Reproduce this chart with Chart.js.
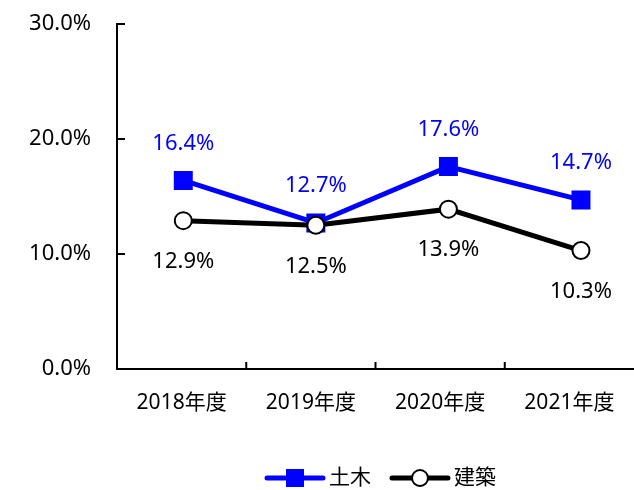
<!DOCTYPE html>
<html>
<head>
<meta charset="utf-8">
<script src="https://cdn.jsdelivr.net/npm/chart.js@4.4.1/dist/chart.umd.min.js"></script>
<style>
  html, body { margin: 0; padding: 0; background: #fff; overflow: hidden; }
  #wrap { width: 634px; height: 490px; position: relative; }
</style>
</head>
<body>
<div id="wrap"><canvas id="lineChart"></canvas></div>
<script>
// chart data
const categories = ['2018年度', '2019年度', '2020年度', '2021年度'];
const civilValues = [16.4, 12.7, 17.6, 14.7];     // 土木
const buildingValues = [12.9, 12.5, 13.9, 10.3];  // 建築
const yTickValues = [0, 10, 20, 30];
const seriesNames = ['土木', '建築'];

const FONT = "'Noto Sans', 'Noto Sans CJK JP', sans-serif";

// points sit on a hidden linear axis (category index -> x) so the markers
// land where the spreadsheet put them, slightly wider than the labels
const toPoints = arr => arr.map((v, i) => ({ x: i, y: v }));

// value labels above / below each point
const valueLabels = {
  id: 'valueLabels',
  afterDatasetsDraw(chart) {
    const ctx = chart.ctx;
    ctx.save();
    ctx.font = '22px ' + FONT;
    ctx.textAlign = 'center';
    ctx.textBaseline = 'middle';
    chart.data.datasets.forEach((ds, i) => {
      const meta = chart.getDatasetMeta(i);
      ctx.fillStyle = ds.labelColor;
      meta.data.forEach((pt, j) => {
        ctx.fillText(ds.data[j].y.toFixed(1) + '%', pt.x, pt.y + ds.labelOffset);
      });
    });
    ctx.restore();
  }
};

// small tick marks pointing into the plot area
const innerTicks = {
  id: 'innerTicks',
  afterDraw(chart) {
    const ctx = chart.ctx;
    const { x, y } = chart.scales;
    const area = chart.chartArea;
    ctx.save();
    ctx.strokeStyle = '#000';
    ctx.lineWidth = 2;
    ctx.beginPath();
    y.ticks.forEach(t => {
      const py = y.getPixelForValue(t.value);
      ctx.moveTo(area.left, py);
      ctx.lineTo(area.left + 8, py);
    });
    for (let i = 0; i < categories.length - 1; i++) {
      const px = (x.getPixelForValue(i) + x.getPixelForValue(i + 1)) / 2;
      ctx.moveTo(px, area.bottom);
      ctx.lineTo(px, area.bottom - 7);
    }
    ctx.stroke();
    ctx.restore();
  }
};

// legend drawn as line + marker, like the spreadsheet one
const lineLegend = {
  id: 'lineLegend',
  afterDraw(chart) {
    const ctx = chart.ctx;
    const items = [0, 1].map(i => chart.data.datasets[i]);
    ctx.save();
    ctx.font = '21px ' + FONT;
    ctx.textBaseline = 'middle';
    const sampleW = 56, gap = 6, itemGap = 21;
    let cx = 267;
    const cy = 478;
    items.forEach(ds => {
      ctx.strokeStyle = ds.borderColor;
      ctx.lineWidth = 5;
      ctx.lineCap = 'round';
      ctx.beginPath();
      ctx.moveTo(cx, cy);
      ctx.lineTo(cx + sampleW, cy);
      ctx.stroke();
      const mx = cx + sampleW / 2;
      ctx.lineWidth = 2;
      ctx.fillStyle = ds.pointBackgroundColor;
      ctx.strokeStyle = ds.pointBorderColor;
      ctx.beginPath();
      if (ds.pointStyle === 'rect') {
        ctx.rect(mx - 8, cy - 8, 16, 16);
      } else {
        ctx.arc(mx, cy, 8, 0, Math.PI * 2);
      }
      ctx.fill();
      ctx.stroke();
      ctx.fillStyle = '#000';
      ctx.fillText(ds.label, cx + sampleW + gap, cy);
      cx += sampleW + gap + ctx.measureText(ds.label).width + itemGap;
    });
    ctx.restore();
  }
};

new Chart(document.getElementById('lineChart'), {
  type: 'line',
  data: {
    labels: categories,
    datasets: [
      {
        label: seriesNames[0],
        data: toPoints(civilValues),
        xAxisID: 'xp',
        borderColor: '#0000FF',
        borderWidth: 5,
        pointStyle: 'rect',
        pointRadius: 12,
        pointBorderWidth: 2,
        pointBackgroundColor: '#0000FF',
        pointBorderColor: '#0000FF',
        labelColor: '#0000FF',
        labelOffset: -37,
        order: 1
      },
      {
        label: seriesNames[1],
        data: toPoints(buildingValues),
        xAxisID: 'xp',
        borderColor: '#000000',
        borderWidth: 5,
        pointStyle: 'circle',
        pointRadius: 8.5,
        pointBorderWidth: 2,
        pointBackgroundColor: '#FFFFFF',
        pointBorderColor: '#000000',
        labelColor: '#000000',
        labelOffset: 41,
        order: 0
      }
    ]
  },
  options: {
    responsive: true,
    maintainAspectRatio: false,
    animation: false,
    layout: { autoPadding: false, padding: { top: 24, left: 0, right: 0, bottom: 0 } },
    plugins: {
      legend: { display: false },
      tooltip: { enabled: false }
    },
    scales: {
      x: {
        offset: true,
        grid: { drawOnChartArea: false, drawTicks: false },
        border: { display: true, color: '#000', width: 2 },
        ticks: {
          color: '#000',
          font: { family: FONT, size: 21 },
          padding: 21,
          maxRotation: 0
        },
        afterFit(scale) {
          scale.height = 121;
          scale.paddingLeft = 0;
          scale.paddingRight = 0;
        }
      },
      xp: {
        type: 'linear',
        display: false,
        min: -0.5,
        max: 3.4
      },
      y: {
        min: 0,
        max: 30,
        afterBuildTicks(scale) { scale.ticks = yTickValues.map(v => ({ value: v })); },
        grid: { drawOnChartArea: false, drawTicks: false },
        border: { display: true, color: '#000', width: 2 },
        ticks: {
          color: '#000',
          font: { family: FONT, size: 22 },
          padding: 26,
          callback: v => v.toFixed(1) + '%'
        },
        afterFit(scale) {
          scale.width = 117;
          scale.paddingTop = 0;
          scale.paddingBottom = 0;
        }
      }
    }
  },
  plugins: [valueLabels, innerTicks, lineLegend]
});
</script>
</body>
</html>
